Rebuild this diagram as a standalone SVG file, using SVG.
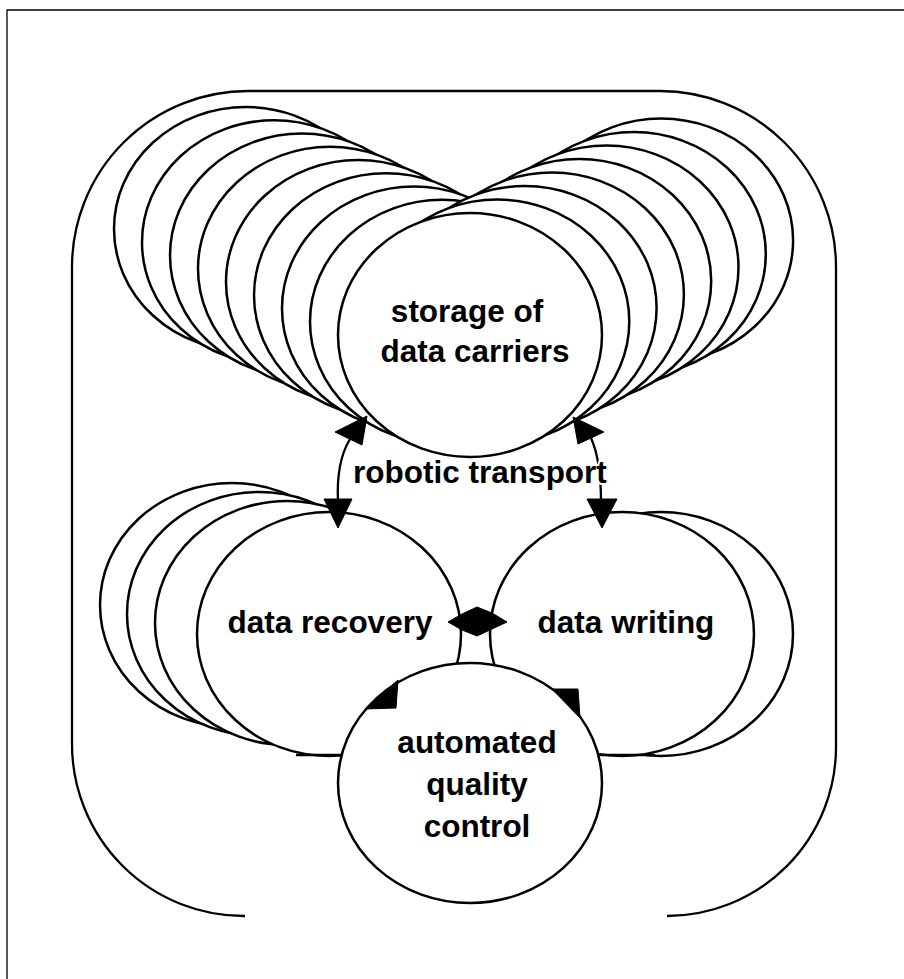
<svg xmlns="http://www.w3.org/2000/svg" width="904" height="979" viewBox="0 0 904 979">
<style>
.bg{fill:#fff}
.c{fill:#fff;stroke:#000;stroke-width:2.5}
.ln{fill:none;stroke:#000;stroke-width:2.3}
.fr{fill:none;stroke:#000;stroke-width:1.3}
.ah{fill:#000;stroke:#000;stroke-width:1}
.t{font-family:"Liberation Sans",Arial,sans-serif;font-weight:bold;font-size:31.5px;fill:#000;text-anchor:middle}
.halo{stroke:#fff;stroke-width:4;paint-order:stroke}
</style>
<rect class="bg" x="0" y="0" width="904" height="979"/>
<g id="frame">
<path class="fr" d="M7 979 L7 10 L904 10"/>
</g>
<g id="boundary">
<path class="ln" d="M245 916 A172 172 0 0 1 72 744 L72 267 A176 176 0 0 1 248 91 L660 91 A176 176 0 0 1 836 267 L836 746 A169 169 0 0 1 667 916"/>
</g>
<g id="storage">
<ellipse class="c" cx="246" cy="229" rx="132" ry="122"/>
<ellipse class="c" cx="274" cy="242.25" rx="132" ry="122"/>
<ellipse class="c" cx="302" cy="255.5" rx="132" ry="122"/>
<ellipse class="c" cx="330" cy="268.75" rx="132" ry="122"/>
<ellipse class="c" cx="358" cy="282" rx="132" ry="122"/>
<ellipse class="c" cx="386" cy="295.25" rx="132" ry="122"/>
<ellipse class="c" cx="414" cy="308.5" rx="132" ry="122"/>
<ellipse class="c" cx="442" cy="321.75" rx="132" ry="122"/>
<ellipse class="c" cx="661.1" cy="240.5" rx="132" ry="122"/>
<ellipse class="c" cx="633.8" cy="254" rx="132" ry="122"/>
<ellipse class="c" cx="606.5" cy="267.5" rx="132" ry="122"/>
<ellipse class="c" cx="579.2" cy="281" rx="132" ry="122"/>
<ellipse class="c" cx="551.9" cy="294.5" rx="132" ry="122"/>
<ellipse class="c" cx="524.6" cy="308" rx="132" ry="122"/>
<ellipse class="c" cx="497.3" cy="321.5" rx="132" ry="122"/>
<ellipse class="c" cx="470" cy="335" rx="132" ry="122"/>
<text class="t" x="467" y="322">storage of</text>
<text class="t" x="475" y="362">data carriers</text>
</g>
<g id="recovery">
<ellipse class="c" cx="232" cy="605" rx="132" ry="122"/>
<ellipse class="c" cx="259" cy="614" rx="132" ry="122"/>
<ellipse class="c" cx="287" cy="623" rx="132" ry="122"/>
<ellipse class="c" cx="329" cy="634" rx="132" ry="122"/>
<text class="t" x="330" y="633">data recovery</text>
</g>
<g id="writing">
<ellipse class="c" cx="661" cy="634" rx="132" ry="122"/>
<ellipse class="c" cx="622" cy="634" rx="132" ry="122"/>
<text class="t" x="626" y="633">data writing</text>
</g>
<g id="qc">
<ellipse class="c" cx="470" cy="783" rx="132" ry="120"/>
<text class="t" x="477" y="753">automated</text>
<text class="t" x="477" y="795">quality</text>
<text class="t" x="477" y="837">control</text>
</g>
<g id="connectors">
<path class="ln" d="M296 755 L341 755"/>
<path class="ln" d="M599 755 L655 755"/>
<path class="ln" d="M350 439 Q336 462 338 502"/>
<polygon class="ah" points="367,416 335,432 362,445"/>
<polygon class="ah" points="338,528 324,499 352,499"/>
<path class="ln" d="M591 438 Q601 460 601 502"/>
<polygon class="ah" points="573,417 578,444 604,432"/>
<polygon class="ah" points="602,528 587,499 617,499"/>
<polygon class="ah" points="448,622 462,614 477,607 492,613 507,622 492,629 477,636 462,630"/>
<polygon class="ah" points="365,709 398,680 396,708"/>
<polygon class="ah" points="552,689 578,689 580,718"/>
</g>
<text class="t halo" x="480" y="483">robotic transport</text>
</svg>
